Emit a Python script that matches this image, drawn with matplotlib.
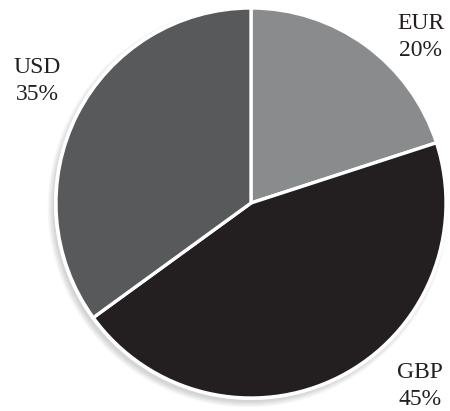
import matplotlib
matplotlib.use("Agg")
import matplotlib.pyplot as plt
from matplotlib.patches import Circle
from matplotlib import font_manager

currencies = ["EUR", "GBP", "USD"]
shares = [20, 45, 35]
colors = ["#8a8b8d", "#231f20", "#58595b"]


def pick_font(candidates):
    for name in candidates:
        try:
            font_manager.findfont(font_manager.FontProperties(family=name),
                                  fallback_to_default=False)
            return name
        except ValueError:
            continue
    return "serif"


serif = pick_font(["Liberation Serif", "Times New Roman", "Nimbus Roman",
                   "TeX Gyre Termes", "DejaVu Serif"])

W, H = 450, 411
fig = plt.figure(figsize=(W / 100, H / 100), dpi=100)
ax = fig.add_axes([0, 0, 1, 1])

cx, cy, r = 251, H - 203, 195

# soft drop shadow under the pie
for k in range(7):
    ax.add_patch(Circle((cx - 3, cy - 4), r + k * 0.9, facecolor="#000000",
                        alpha=0.025, edgecolor="none", zorder=0))
ax.add_patch(Circle((cx, cy), r + 2, facecolor="white", edgecolor="none", zorder=1))

wedges, _ = ax.pie(shares, colors=colors, startangle=90, counterclock=False,
                   center=(cx, cy), radius=r, frame=True,
                   wedgeprops=dict(edgecolor="white", linewidth=2.4))
for w in wedges:
    w.set_zorder(2)
ax.set_xlim(0, W)
ax.set_ylim(0, H)
ax.set_aspect("equal")
ax.set_axis_off()

label_pos = {"EUR": (421, H - 37), "GBP": (420, H - 386), "USD": (37, H - 81)}
for name, val in zip(currencies, shares):
    x, y = label_pos[name]
    ax.text(x, y, f"{name}\n{val}%", ha="center", va="center",
            fontsize=17, family=serif, color="#231f20",
            linespacing=1.38, zorder=3)

fig.savefig("out.png", dpi=100)
